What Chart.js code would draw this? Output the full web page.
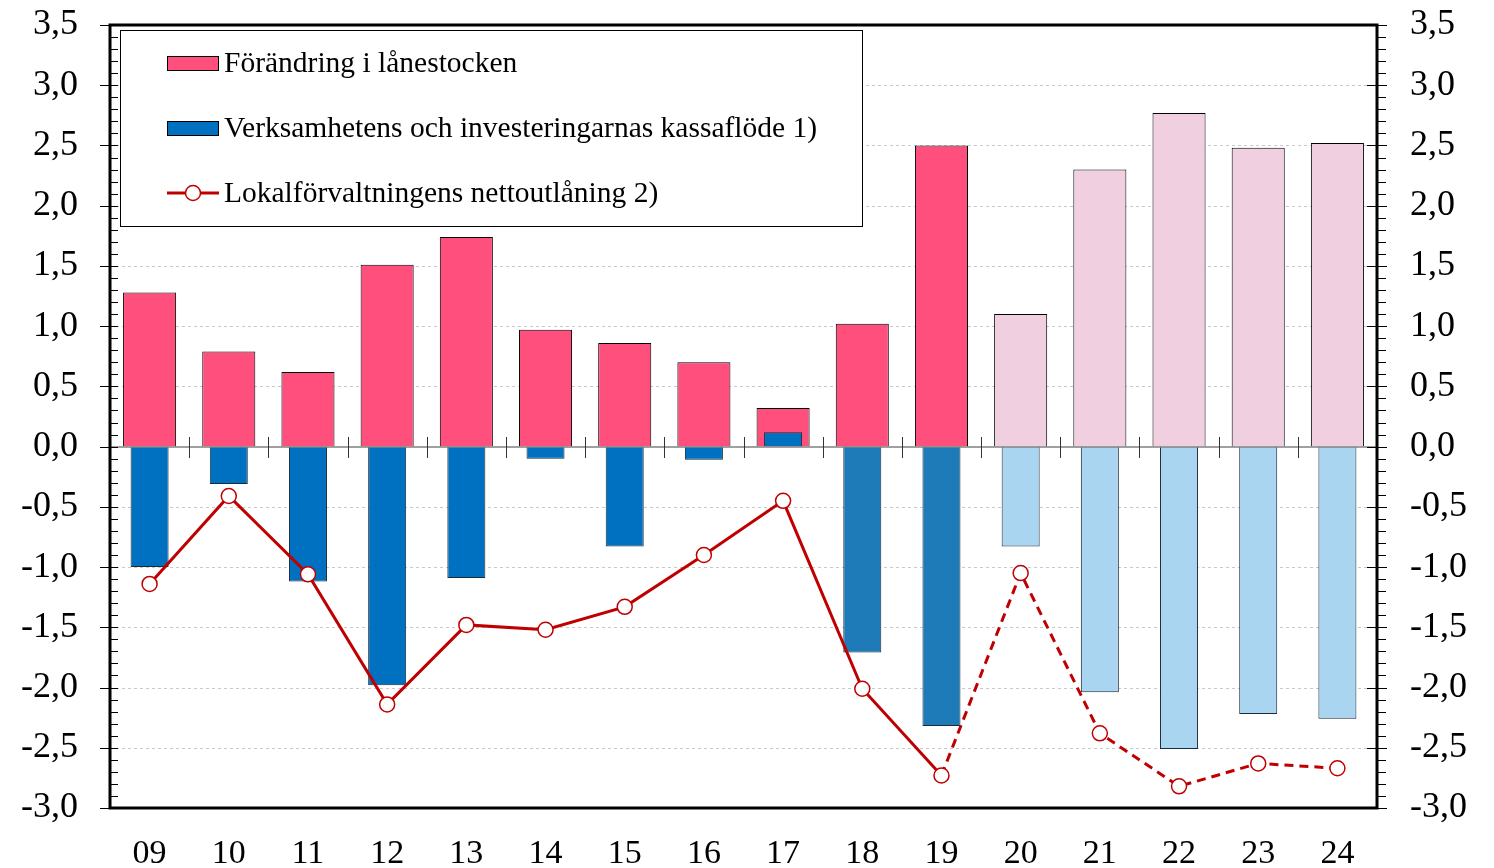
<!DOCTYPE html>
<html>
<head>
<meta charset="utf-8">
<script src="https://cdn.jsdelivr.net/npm/chart.js@4"></script>
<style>
  html, body { margin: 0; padding: 0; background: #fff; }
  #wrap { width: 1494px; height: 868px; }
</style>
</head>
<body>
<div id="wrap"><canvas id="myChart" width="1494" height="868"></canvas></div>
<script>
const years = ["09","10","11","12","13","14","15","16","17","18","19","20","21","22","23","24"];
const loanChange = [1.28, 0.79, 0.62, 1.51, 1.74, 0.97, 0.86, 0.70, 0.32, 1.02, 2.50, 1.10, 2.30, 2.77, 2.48, 2.52];
const cashFlow = [-1.00, -0.31, -1.12, -1.98, -1.09, -0.10, -0.83, -0.11, 0.12, -1.71, -2.32, -0.83, -2.04, -2.51, -2.22, -2.26];
const netLending = [-1.14, -0.41, -1.06, -2.14, -1.48, -1.52, -1.33, -0.90, -0.45, -2.01, -2.73, -1.05, -2.38, -2.82, -2.63, -2.67];
const yTicks = [-3.0, -2.5, -2.0, -1.5, -1.0, -0.5, 0.0, 0.5, 1.0, 1.5, 2.0, 2.5, 3.0, 3.5];
const labels = ["Förändring i lånestocken", "Verksamhetens och investeringarnas kassaflöde 1)", "Lokalförvaltningens nettoutlåning 2)"];
const forecastFrom = 11; // index of "20"

const FONT = '"Liberation Serif", "Times New Roman", serif';
const pinkCol = years.map((y, i) => i >= forecastFrom ? '#f0d0e0' : '#ff507d');
const blueCol = years.map((y, i) => i >= forecastFrom ? '#a9d5f0' : (i >= 9 ? '#1f7ab8' : '#0070c0'));
const fmt = v => v.toFixed(1).replace('.', ',');

// grid, zero line, axis frame and little tick marks
const framePlugin = {
  id: 'frame',
  beforeDatasetsDraw(chart) {
    const {ctx, chartArea: a, scales} = chart;
    const y = scales.y;
    ctx.save();
    ctx.strokeStyle = '#c8c8c8';
    ctx.lineWidth = 1;
    ctx.setLineDash([3, 3]);
    yTicks.forEach(v => {
      if (v === 0 || v === 3.5 || v === -3) return;
      const py = Math.round(y.getPixelForValue(v)) + 0.5;
      ctx.beginPath(); ctx.moveTo(a.left, py); ctx.lineTo(a.right, py); ctx.stroke();
    });
    ctx.restore();
  },
  afterDatasetsDraw(chart) {
    const {ctx, chartArea: a, scales} = chart;
    const y = scales.y;
    ctx.save();
    // zero line
    const y0 = Math.round(y.getPixelForValue(0));
    ctx.strokeStyle = '#808080';
    ctx.lineWidth = 1.5;
    ctx.beginPath(); ctx.moveTo(a.left, y0); ctx.lineTo(a.right, y0); ctx.stroke();
    // category boundary ticks on zero line
    ctx.lineWidth = 1;
    ctx.strokeStyle = '#333';
    const step = (a.right - a.left) / years.length;
    for (let i = 1; i < years.length; i++) {
      const px = Math.round(a.left + i * step) + 0.5;
      ctx.beginPath(); ctx.moveTo(px, y0 - 10); ctx.lineTo(px, y0 + 11); ctx.stroke();
    }
    ctx.restore();
  },
  afterDraw(chart) {
    const {ctx, chartArea: a, scales} = chart;
    const y = scales.y;
    ctx.save();
    ctx.strokeStyle = '#000';
    ctx.lineWidth = 1;
    for (let k = -30; k <= 35; k++) {
      const v = k / 10;
      const py = Math.round(y.getPixelForValue(v)) + 0.5;
      const major = k % 5 === 0;
      ctx.beginPath();
      if (major) {
        ctx.moveTo(a.left - 10, py); ctx.lineTo(a.left + 8, py);
        ctx.moveTo(a.right - 10, py); ctx.lineTo(a.right + 10, py);
      } else {
        ctx.moveTo(a.left, py); ctx.lineTo(a.left + 8, py);
        ctx.moveTo(a.right, py); ctx.lineTo(a.right + 9, py);
      }
      ctx.stroke();
    }
    ctx.lineWidth = 3;
    ctx.strokeRect(a.left, a.top, a.right - a.left, a.bottom - a.top);

    // legend box
    const lx = 120, ly = 30, lw = 742, lh = 196;
    ctx.fillStyle = '#fff';
    ctx.fillRect(lx, ly, lw, lh);
    ctx.lineWidth = 1;
    ctx.strokeStyle = '#000';
    ctx.strokeRect(lx + 0.5, ly + 0.5, lw, lh);
    const rows = [63, 128, 193];
    ctx.font = '29.5px ' + FONT;
    ctx.textBaseline = 'middle';
    ctx.fillStyle = '#ff507d';
    ctx.fillRect(167, rows[0] - 7, 51, 14);
    ctx.strokeRect(167.5, rows[0] - 6.5, 51, 14);
    ctx.fillStyle = '#0070c0';
    ctx.fillRect(167, rows[1] - 7, 51, 14);
    ctx.strokeRect(167.5, rows[1] - 6.5, 51, 14);
    ctx.strokeStyle = '#c00000';
    ctx.lineWidth = 3;
    ctx.beginPath(); ctx.moveTo(167, rows[2]); ctx.lineTo(219, rows[2]); ctx.stroke();
    ctx.fillStyle = '#fff';
    ctx.lineWidth = 1.5;
    ctx.beginPath(); ctx.arc(193, rows[2], 7.5, 0, Math.PI * 2); ctx.fill(); ctx.stroke();
    ctx.fillStyle = '#000';
    labels.forEach((t, i) => ctx.fillText(t, 224, rows[i] + 1));
    ctx.restore();
  }
};

function fitY(w) {
  return s => { s.width = w; s.paddingTop = 0; s.paddingBottom = 0; };
}

const ctx = document.getElementById('myChart').getContext('2d');
new Chart(ctx, {
  type: 'bar',
  data: {
    labels: years,
    datasets: [
      {
        type: 'line',
        label: labels[2],
        data: netLending,
        yAxisID: 'y',
        order: 0,
        borderColor: '#c00000',
        borderWidth: 3,
        pointRadius: 7.5,
        pointBackgroundColor: '#fff',
        pointBorderColor: '#c00000',
        pointBorderWidth: 1.5,
        tension: 0,
        segment: {
          borderDash: c => c.p0DataIndex >= forecastFrom - 1 ? [9, 6] : undefined
        }
      },
      {
        label: labels[1],
        data: cashFlow,
        yAxisID: 'y',
        order: 1,
        grouped: false,
        backgroundColor: blueCol,
        borderColor: '#1a2a3a',
        borderWidth: 1,
        barPercentage: 0.48,
        categoryPercentage: 1
      },
      {
        label: labels[0],
        data: loanChange,
        yAxisID: 'y',
        order: 2,
        grouped: false,
        backgroundColor: pinkCol,
        borderColor: '#000',
        borderWidth: 1,
        barPercentage: 0.67,
        categoryPercentage: 1
      }
    ]
  },
  options: {
    responsive: false,
    animation: false,
    layout: { padding: { top: 25, left: 0, right: 0, bottom: 0 } },
    plugins: {
      legend: { display: false },
      tooltip: { enabled: false }
    },
    scales: {
      x: {
        offset: true,
        grid: { display: false, drawTicks: false },
        border: { display: false },
        ticks: { color: '#000', font: { family: FONT, size: 34 }, padding: 26, maxRotation: 0, autoSkip: false },
        afterFit: s => { s.height = 60; s.paddingLeft = 0; s.paddingRight = 0; }
      },
      y: {
        position: 'left',
        min: -3, max: 3.5,
        afterBuildTicks: s => { s.ticks = yTicks.map(v => ({value: v})); },
        grid: { display: false, drawTicks: false },
        border: { display: false },
        ticks: { color: '#000', font: { family: FONT, size: 36 }, padding: 32, callback: v => fmt(v) },
        afterFit: fitY(110)
      },
      y2: {
        position: 'right',
        min: -3, max: 3.5,
        afterBuildTicks: s => { s.ticks = yTicks.map(v => ({value: v})); },
        grid: { display: false, drawTicks: false },
        border: { display: false },
        ticks: { color: '#000', font: { family: FONT, size: 36 }, padding: 33, callback: v => fmt(v) },
        afterFit: fitY(117)
      }
    }
  },
  plugins: [framePlugin]
});
</script>
</body>
</html>
